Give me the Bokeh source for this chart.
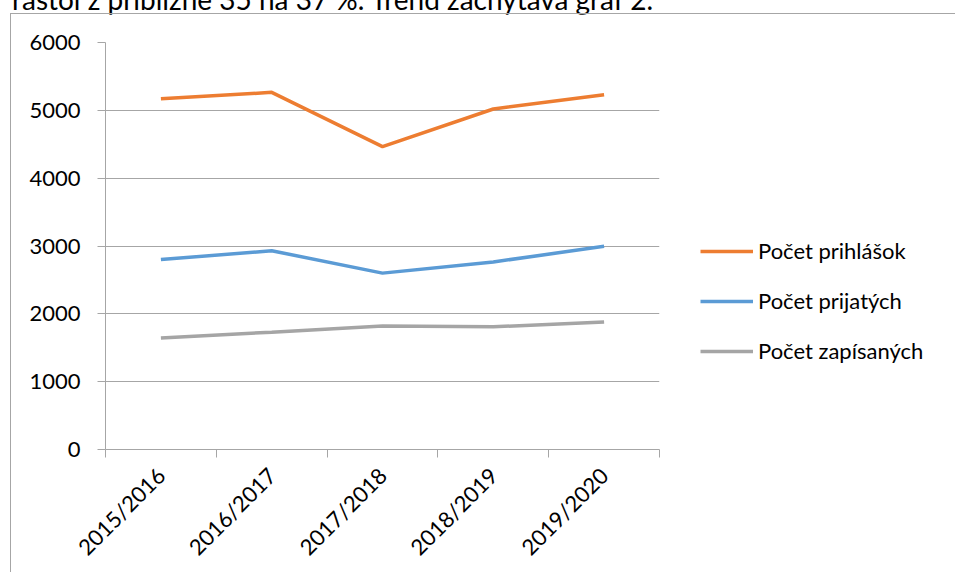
import math
from bokeh.plotting import figure
from bokeh.models import Range1d, FixedTicker, Div
from bokeh.layouts import column
from bokeh.embed import file_html
from bokeh.resources import INLINE

categories = ["2015/2016", "2016/2017", "2017/2018", "2018/2019", "2019/2020"]
prihlasok = [5170, 5265, 4465, 5020, 5230]
prijatych = [2800, 2930, 2600, 2765, 2995]
zapisanych = [1645, 1730, 1820, 1808, 1880]
series_names = ["Počet prihlášok", "Počet prijatých", "Počet zapísaných"]
series_colors = ["#ED7D31", "#5B9BD5", "#A5A5A5"]
y_ticks = [0, 1000, 2000, 3000, 4000, 5000, 6000]
context_text = "rastol z približne 35 na 37 %. Trend zachytáva graf 2."

FONT = "Lato"
GRID = "#a6a6a6"

xpos = [i + 0.5 for i in range(len(categories))]

p = figure(frame_width=553, frame_height=406,
           min_border_left=94, min_border_top=28, min_border_right=289, min_border_bottom=124,
           x_range=Range1d(0, len(categories)), y_range=Range1d(0, 6000),
           output_backend="svg", toolbar_location=None, tools="")
p.margin = (13, 0, 0, 10)
p.styles = {"border-left": "1px solid #a6a6a6", "border-top": "1px solid #a6a6a6"}
p.outline_line_color = None
p.background_fill_color = "white"

for vals, name, col in zip([prihlasok, prijatych, zapisanych], series_names, series_colors):
    p.line(xpos, vals, line_color=col, line_width=3.5, legend_label=name)

# y axis
ya = p.yaxis[0]
ya.ticker = FixedTicker(ticks=y_ticks)
ya.major_tick_in = 0
ya.major_tick_out = 8
ya.major_tick_line_color = GRID
ya.minor_tick_line_color = None
ya.axis_line_color = GRID
ya.major_label_standoff = 17
ya.major_label_text_font = FONT
ya.major_label_text_font_size = "22px"
ya.major_label_text_color = "#000000"

p.ygrid.ticker = FixedTicker(ticks=y_ticks)
p.ygrid.grid_line_color = GRID
p.xgrid.grid_line_color = None

# x axis
xa = p.xaxis[0]
xa.ticker = FixedTicker(ticks=xpos, minor_ticks=list(range(len(categories) + 1)))
xa.major_label_overrides = {xp: c for xp, c in zip(xpos, categories)}
xa.major_tick_line_color = None
xa.major_tick_in = 0
xa.major_tick_out = 0
xa.minor_tick_in = 0
xa.minor_tick_out = 8
xa.minor_tick_line_color = GRID
xa.axis_line_color = GRID
xa.major_label_orientation = math.pi / 4
xa.major_label_standoff = 14
xa.major_label_text_font = FONT
xa.major_label_text_font_size = "22px"
xa.major_label_text_color = "#000000"

lg = p.legend[0]
lg.padding = 0
lg.margin = 0
lg.spacing = 23
lg.label_height = 26
lg.glyph_height = 26
lg.glyph_width = 53
lg.label_standoff = 5
lg.border_line_color = None
lg.background_fill_alpha = 0
lg.label_text_font = FONT
lg.label_text_font_size = "22px"
lg.label_text_color = "#000000"
p.center.remove(lg)
lg.location = (41, 85)
p.add_layout(lg, "right")

html = ('<div style="position:relative; top:-18px; left:7px; font-family:Lato; '
        'font-size:28px; line-height:24px; white-space:nowrap; color:#000000;">'
        + context_text + '</div>')
div = Div(text=html, width=700, height=0,
          styles={"position": "absolute", "top": "0px", "left": "0px", "overflow": "visible"})

layout = column(div, p, spacing=0)

open("out.html", "w").write(file_html(layout, INLINE))
